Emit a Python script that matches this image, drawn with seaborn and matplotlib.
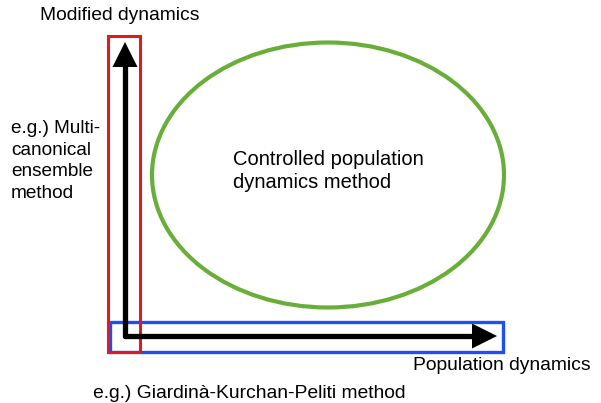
import matplotlib.pyplot as plt
import seaborn as sns
import pandas as pd
from matplotlib.patches import Rectangle, Ellipse

# diagram geometry (pixel space of the 601x403 picture)
origin = (125, 336)
y_tip = 42
x_tip = 497

red_box = [108, 36, 32, 316]      # x, y, w, h
blue_box = [110, 322, 393, 30]
ellipse_xy = (328, 175)
ellipse_size = (352, 265)

labels = {
    "top": "Modified dynamics",
    "left": "e.g.) Multi-\ncanonical\nensemble\nmethod",
    "center": "Controlled population\ndynamics method",
    "right": "Population dynamics",
    "bottom": "e.g.) Giardinà-Kurchan-Peliti method",
}

sns.set_theme(style="white")
plt.rcParams['font.family'] = ['Liberation Sans', 'DejaVu Sans']
plt.rcParams['text.color'] = 'black'

fig = plt.figure(figsize=(6.01, 4.03), dpi=100)
ax = fig.add_axes([0, 0, 1, 1])

# axis shafts drawn through seaborn
shafts = pd.DataFrame({
    "x": [origin[0], origin[0], origin[0], x_tip - 20],
    "y": [y_tip + 20, origin[1], origin[1], origin[1]],
    "seg": ["v", "v", "h", "h"],
})
sns.lineplot(data=shafts, x="x", y="y", units="seg", estimator=None,
             sort=False, color="black", lw=3.8, ax=ax, legend=False)
ax.set_xlim(0, 601)
ax.set_ylim(403, 0)
ax.axis('off')

# arrow heads
ax.annotate("", xy=(origin[0], y_tip), xytext=(origin[0], y_tip + 24),
            arrowprops=dict(arrowstyle="-|>,head_length=1.5,head_width=0.75",
                            color="black", lw=0, shrinkA=0, shrinkB=0))
ax.annotate("", xy=(x_tip, origin[1]), xytext=(x_tip - 24, origin[1]),
            arrowprops=dict(arrowstyle="-|>,head_length=1.5,head_width=0.75",
                            color="black", lw=0, shrinkA=0, shrinkB=0))

ax.add_patch(Rectangle((blue_box[0], blue_box[1]), blue_box[2], blue_box[3],
                       fill=False, ec="#1f4ef2", lw=2.4))
ax.add_patch(Rectangle((red_box[0], red_box[1]), red_box[2], red_box[3],
                       fill=False, ec="#e01b1b", lw=2.2))
ax.add_patch(Ellipse(ellipse_xy, ellipse_size[0], ellipse_size[1],
                     fill=False, ec="#6aae3a", lw=3))

fs = 13.9
ax.text(40, 15, labels["top"], fontsize=fs, va="center", ha="left")
ax.text(11, 161, labels["left"], fontsize=13.7, va="center", ha="left", linespacing=1.38)
ax.text(233, 171, labels["center"], fontsize=14.5, va="center", ha="left", linespacing=1.3)
ax.text(413, 365, labels["right"], fontsize=fs, va="center", ha="left")
ax.text(93, 394, labels["bottom"], fontsize=fs, va="center", ha="left")

fig.savefig("out.png", dpi=100)
